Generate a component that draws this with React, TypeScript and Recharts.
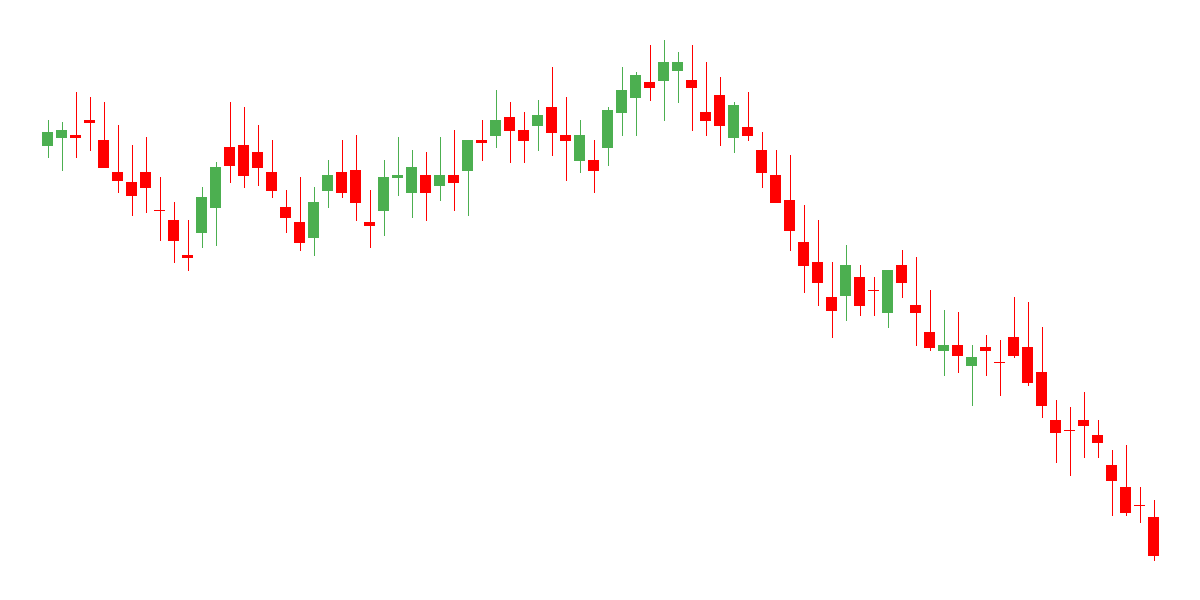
import { ComposedChart, Bar, XAxis, YAxis } from "recharts";

// daily sessions, oldest first
const days = Array.from({ length: 80 }, (_, i) => `D${i + 1}`);

const opens = [
  45.4, 46.2, 46.5, 48.0, 46.0, 42.8, 41.8, 42.8, 39.0, 38.0,
  34.5, 36.7, 39.2, 45.3, 45.5, 44.8, 42.8, 39.3, 37.8, 36.2,
  40.9, 42.8, 43.0, 37.8, 38.9, 42.2, 40.7, 42.5, 41.4, 42.5,
  42.9, 46.0, 46.4, 48.3, 47.0, 47.4, 49.3, 46.5, 43.9, 44.0,
  45.2, 48.7, 50.2, 51.8, 51.9, 52.9, 52.0, 48.8, 50.5, 46.2,
  47.3, 45.0, 42.5, 40.0, 35.8, 33.8, 30.3, 30.4, 32.3, 31.0,
  28.7, 33.5, 29.5, 26.8, 24.9, 25.5, 23.4, 25.3, 23.8, 26.3,
  25.3, 22.8, 18.0, 17.0, 18.0, 16.5, 13.5, 11.3, 9.5, 8.3,
];
const highs = [
  48.0, 47.8, 50.8, 50.3, 49.8, 47.5, 45.5, 46.3, 42.3, 39.8,
  38.0, 41.3, 43.8, 49.8, 49.3, 47.5, 46.0, 41.0, 42.3, 41.3,
  44.0, 46.0, 46.5, 41.0, 44.0, 46.3, 45.0, 44.8, 46.3, 47.0,
  46.0, 48.0, 51.0, 49.8, 48.8, 50.0, 53.3, 50.3, 48.0, 46.0,
  49.3, 53.3, 52.8, 55.5, 56.0, 54.8, 55.5, 53.8, 52.3, 49.8,
  50.8, 46.8, 45.0, 44.5, 39.5, 38.0, 33.8, 35.5, 33.5, 32.3,
  33.0, 35.0, 34.3, 31.0, 29.0, 28.8, 25.5, 26.5, 26.0, 30.3,
  29.8, 27.3, 20.0, 19.3, 20.8, 18.0, 15.0, 15.5, 11.3, 10.0,
];
const lows = [
  44.2, 42.9, 44.2, 44.9, 43.2, 40.7, 38.4, 38.7, 35.9, 33.7,
  32.9, 35.2, 35.4, 41.7, 41.2, 41.4, 40.2, 36.7, 34.9, 34.4,
  39.2, 40.2, 37.9, 35.2, 36.4, 40.4, 38.2, 37.9, 39.9, 38.9,
  38.4, 43.9, 45.2, 43.7, 43.7, 44.9, 44.4, 41.9, 42.7, 40.7,
  43.4, 46.4, 46.4, 49.9, 47.9, 49.7, 46.9, 46.4, 45.4, 44.7,
  45.9, 41.2, 39.7, 34.9, 30.7, 29.4, 26.2, 27.9, 28.4, 28.4,
  27.2, 30.2, 25.4, 24.9, 22.4, 22.7, 19.4, 22.4, 20.4, 24.2,
  21.4, 18.2, 13.7, 12.4, 14.2, 14.2, 8.4, 8.4, 7.7, 3.9,
];
const closes = [
  46.8, 47.0, 46.2, 47.7, 43.2, 41.9, 40.4, 41.2, 38.9, 35.9,
  34.2, 40.3, 43.3, 43.4, 42.4, 43.2, 40.9, 38.2, 35.7, 39.8,
  42.5, 40.7, 39.7, 37.4, 42.3, 42.5, 43.3, 40.7, 42.5, 41.7,
  46.0, 45.7, 48.0, 46.9, 45.9, 48.5, 46.7, 45.9, 46.5, 42.9,
  49.0, 51.0, 52.5, 51.2, 53.8, 53.8, 51.2, 47.9, 47.4, 49.5,
  46.4, 42.7, 39.7, 36.9, 33.4, 31.7, 28.9, 33.5, 29.4, 30.9,
  33.0, 31.7, 28.7, 25.2, 25.5, 24.4, 24.3, 24.9, 23.7, 24.4,
  21.7, 19.4, 16.7, 16.9, 17.4, 15.7, 11.9, 8.7, 9.4, 4.4,
];

const UP = "#4caf50";
const DOWN = "#ff0000";

const data = days.map((day, i) => ({
  day,
  open: opens[i],
  high: highs[i],
  low: lows[i],
  close: closes[i],
  range: [lows[i], highs[i]],
}));

// draws wick + body inside the box recharts gives for [low, high]
function Candle(props: any) {
  const { x, y, width, height, payload } = props;
  if (!payload || height <= 0) return null;
  const { open, close, high, low } = payload;
  const color = close >= open ? UP : DOWN;
  const perUnit = height / (high - low);
  const bodyTop = y + (high - Math.max(open, close)) * perUnit;
  const bodyH = Math.max(Math.abs(open - close) * perUnit, 1);
  const cx = Math.round(x + width / 2) + 0.5;
  return (
    <g>
      <line x1={cx} x2={cx} y1={y} y2={y + height} stroke={color} strokeWidth={1} />
      <rect x={x} y={bodyTop} width={width} height={bodyH} fill={color} />
    </g>
  );
}

export default function App() {
  return (
    <div style={{ position: "absolute", left: 0, top: 0, width: 1200, height: 600, background: "#fff" }}>
      <ComposedChart
        width={1200}
        height={600}
        data={data}
        margin={{ top: 0, right: 40, bottom: 0, left: 40 }}
      >
        <XAxis dataKey="day" hide />
        <YAxis hide domain={[0, 60]} />
        <Bar dataKey="range" barSize={11} shape={<Candle />} isAnimationActive={false} />
      </ComposedChart>
    </div>
  );
}
